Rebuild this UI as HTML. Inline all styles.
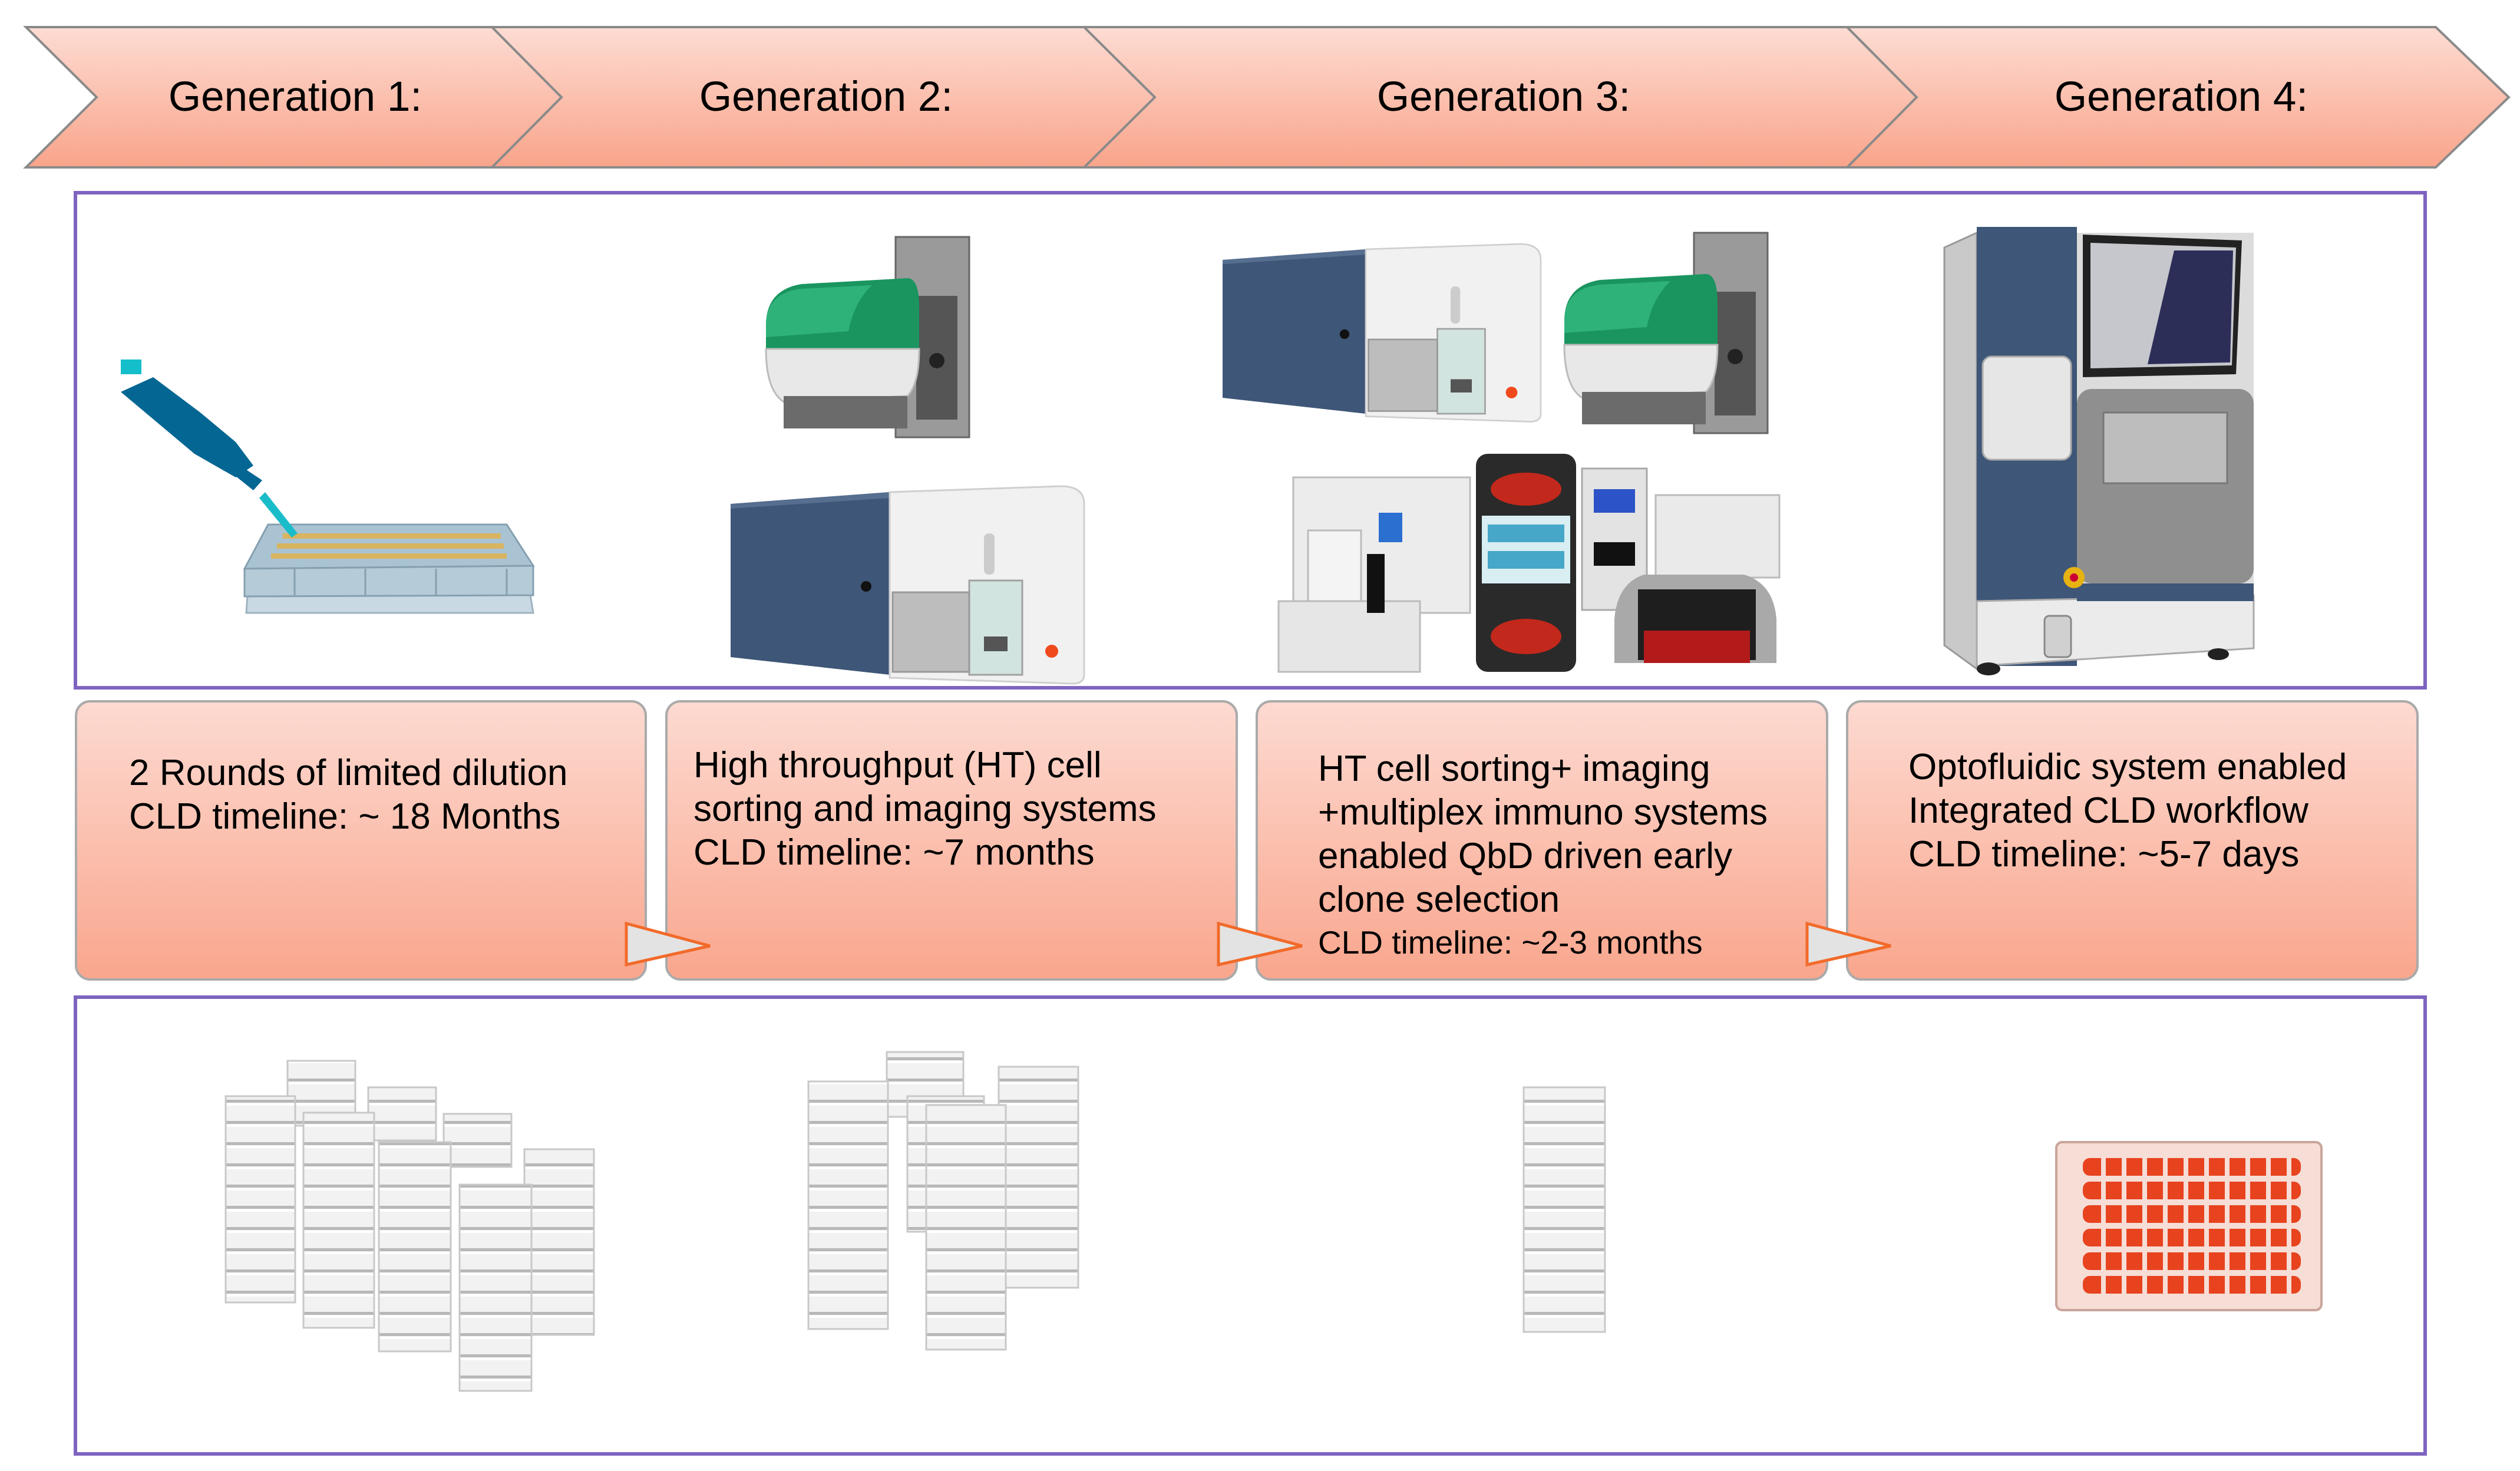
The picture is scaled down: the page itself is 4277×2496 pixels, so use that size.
<!DOCTYPE html>
<html><head><meta charset="utf-8"><style>
html,body{margin:0;padding:0;background:#fff;}
svg{display:block;}
text{font-family:"Liberation Sans",Arial,sans-serif;fill:#000;}
</style></head><body>
<svg width="4277" height="2496" viewBox="0 0 4277 2496" xmlns="http://www.w3.org/2000/svg">
<defs>
<linearGradient id="pk" x1="0" y1="0" x2="0" y2="1">
<stop offset="0" stop-color="#fddcd3"/><stop offset="1" stop-color="#f9a48a"/></linearGradient>
<linearGradient id="pk2" x1="0" y1="0" x2="0" y2="1">
<stop offset="0" stop-color="#fddad1"/><stop offset="1" stop-color="#f9a68d"/></linearGradient>
<pattern id="stk" patternUnits="userSpaceOnUse" width="20" height="36">
<rect width="20" height="36" fill="#f2f2f2"/><rect y="30" width="20" height="5" fill="#b8b8b8"/><rect y="0" width="20" height="4" fill="#ffffff"/></pattern>
<g id="sorter">
<polygon points="0,40 270,20 270,330 0,300" fill="#3e5677"/>
<polygon points="0,40 270,20 270,30 0,48" fill="#566e8f"/>
<circle cx="230" cy="180" r="9" fill="#111"/>
<path d="M270,20 L560,10 Q600,10 600,40 L600,330 Q600,345 580,345 L270,335 Z" fill="#f1f1f1" stroke="#cfcfcf" stroke-width="3"/>
<rect x="275" y="190" width="130" height="135" fill="#bdbdbd" stroke="#999" stroke-width="3"/>
<rect x="405" y="170" width="90" height="160" fill="#cfe3df" stroke="#999" stroke-width="3" opacity="0.9"/>
<rect x="430" y="90" width="18" height="70" rx="8" fill="#ccc"/>
<rect x="430" y="265" width="40" height="25" fill="#555"/>
<circle cx="545" cy="290" r="11" fill="#f04a1c"/>
</g>
<g id="imager">
<rect x="220" y="0" width="125" height="340" fill="#9a9a9a" stroke="#666" stroke-width="3"/>
<rect x="255" y="100" width="70" height="210" fill="#555"/>
<path d="M0,150 Q0,90 60,80 L240,70 Q260,70 260,120 L260,190 L0,190 Z" fill="#1a9560"/>
<path d="M0,150 Q0,95 60,88 L180,82 Q150,110 140,160 L0,170Z" fill="#2fb27a"/>
<path d="M0,190 L260,190 Q260,250 240,270 L30,280 Q0,260 0,190Z" fill="#e8e8e8" stroke="#bbb" stroke-width="3"/>
<rect x="30" y="270" width="210" height="55" fill="#6b6b6b"/>
<circle cx="290" cy="210" r="13" fill="#222"/>
</g>
</defs>

<!-- chevrons -->
<g stroke="#8a8a8a" stroke-width="4" fill="url(#pk)">
<polygon points="44,46 835,46 953,165 835,284 44,284 164,165"/>
<polygon points="835,46 1840,46 1960,165 1840,284 835,284 953,165"/>
<polygon points="1840,46 3135,46 3253,165 3135,284 1840,284 1960,165"/>
<polygon points="3135,46 4134,46 4258,165 4134,284 3135,284 3253,165"/>
</g>
<g font-size="71" text-anchor="middle">
<text x="501" y="188">Generation 1:</text>
<text x="1402" y="188">Generation 2:</text>
<text x="2552" y="188">Generation 3:</text>
<text x="3702" y="188">Generation 4:</text>
</g>

<!-- top box -->
<rect x="128" y="327" width="3988" height="840" fill="#fff" stroke="#7e64c0" stroke-width="6"/>

<!-- Gen1 pipette + plate -->
<polygon points="420,1010 900,1010 905,1040 418,1040" fill="#c9d9e3" stroke="#9fb3c0" stroke-width="3"/>
<polygon points="455,890 860,890 905,960 415,965" fill="#a9c3d2" stroke="#86a0b0" stroke-width="3"/>
<polygon points="415,965 905,960 905,1010 415,1012" fill="#b5cbd8" stroke="#86a0b0" stroke-width="3"/>
<g fill="#d9b460">
<rect x="480" y="905" width="370" height="9"/><rect x="470" y="922" width="385" height="9"/><rect x="460" y="939" width="400" height="9"/>
</g>
<g stroke="#86a0b0" stroke-width="3">
<line x1="500" y1="965" x2="500" y2="1010"/><line x1="620" y1="965" x2="620" y2="1010"/><line x1="740" y1="965" x2="740" y2="1010"/><line x1="860" y1="965" x2="860" y2="1010"/>
</g>
<polygon points="205,665 260,640 340,700 400,750 430,790 400,810 330,770" fill="#036693"/>
<polygon points="400,785 445,815 430,832 390,800" fill="#036693"/>
<polygon points="450,835 505,905 495,912 440,845" fill="#1bbcc9"/>
<rect x="205" y="610" width="35" height="25" fill="#14bfcb"/>

<!-- Gen2 machines -->
<use href="#imager" transform="translate(1300,402)"/>
<use href="#sorter" transform="translate(1240,815)"/>

<!-- Gen3 machines -->
<use href="#sorter" transform="translate(2075,405) scale(0.9)"/>
<use href="#imager" transform="translate(2655,395)"/>
<!-- cluster -->
<rect x="2195" y="810" width="300" height="230" fill="#ececec" stroke="#bbb" stroke-width="3"/>
<rect x="2340" y="870" width="40" height="50" fill="#2b6fd1"/>
<rect x="2170" y="1020" width="240" height="120" fill="#e6e6e6" stroke="#bbb" stroke-width="3"/>
<rect x="2220" y="900" width="90" height="120" fill="#f4f4f4" stroke="#bbb" stroke-width="3"/>
<rect x="2320" y="940" width="30" height="100" fill="#111"/>
<rect x="2505" y="770" width="170" height="370" rx="20" fill="#2a2a2a"/>
<ellipse cx="2590" cy="830" rx="60" ry="28" fill="#c2281b"/>
<ellipse cx="2590" cy="1080" rx="60" ry="30" fill="#c2281b"/>
<rect x="2515" y="875" width="150" height="115" fill="#d8eef2"/>
<rect x="2525" y="890" width="130" height="30" fill="#47a7c9"/>
<rect x="2525" y="935" width="130" height="30" fill="#47a7c9"/>
<rect x="2685" y="795" width="110" height="240" fill="#e3e3e3" stroke="#aaa" stroke-width="3"/>
<rect x="2705" y="830" width="70" height="40" fill="#2c54c8"/>
<rect x="2705" y="920" width="70" height="40" fill="#111"/>
<rect x="2810" y="840" width="210" height="140" fill="#eaeaea" stroke="#bbb" stroke-width="3"/>
<path d="M2740,1050 Q2745,990 2790,975 L2960,975 Q3010,990 3015,1050 L3015,1125 L2740,1125Z" fill="#a9a9a9"/>
<rect x="2780" y="1000" width="200" height="120" fill="#1e1e1e"/>
<rect x="2790" y="1070" width="180" height="55" fill="#b31b1b"/>

<!-- Gen4 machine -->
<polygon points="3300,420 3355,395 3355,1135 3300,1095" fill="#c9c9c9" stroke="#999" stroke-width="3"/>
<rect x="3355" y="385" width="170" height="745" fill="#3e5677"/>
<rect x="3525" y="395" width="300" height="630" fill="#dcdcdc"/>
<polygon points="3355,1020 3825,1010 3825,1100 3355,1130" fill="#ebebeb" stroke="#aaa" stroke-width="3"/>
<rect x="3525" y="990" width="300" height="30" fill="#3e5677"/>
<rect x="3525" y="660" width="300" height="330" rx="25" fill="#8f8f8f"/>
<rect x="3570" y="700" width="210" height="120" fill="#bdbdbd" stroke="#777" stroke-width="3"/>
<polygon points="3535,398 3805,408 3795,635 3535,640" fill="#222"/>
<polygon points="3548,412 3795,420 3788,620 3548,625" fill="#c5c7cc"/>
<polygon points="3690,425 3790,425 3785,615 3645,618" fill="#2d2e58"/>
<rect x="3365" y="605" width="150" height="175" rx="15" fill="#e6e6e6" stroke="#aaa" stroke-width="3"/>
<circle cx="3520" cy="980" r="18" fill="#e7b313"/><circle cx="3520" cy="980" r="7" fill="#c03"/>
<rect x="3470" y="1045" width="45" height="70" rx="8" fill="#d0d0d0" stroke="#888" stroke-width="3"/>
<ellipse cx="3375" cy="1135" rx="20" ry="11" fill="#222"/><ellipse cx="3765" cy="1110" rx="18" ry="10" fill="#222"/>

<!-- pink boxes -->
<g fill="url(#pk2)" stroke="#aaaaaa" stroke-width="4">
<rect x="129" y="1190" width="967" height="472" rx="24"/>
<rect x="1131" y="1190" width="968" height="472" rx="24"/>
<rect x="2133" y="1190" width="968" height="472" rx="24"/>
<rect x="3135" y="1190" width="968" height="472" rx="24"/>
</g>
<g fill="#e3e3e3" stroke="#f26a2a" stroke-width="5">
<polygon points="1063,1567 1063,1637 1205,1605"/>
<polygon points="2068,1567 2068,1637 2210,1605"/>
<polygon points="3067,1567 3067,1637 3209,1605"/>
</g>
<g font-size="62">
<text x="219" y="1332">2 Rounds of limited dilution</text>
<text x="219" y="1406">CLD timeline: ~ 18 Months</text>
<text x="1177" y="1319">High throughput (HT) cell</text>
<text x="1177" y="1393">sorting and imaging systems</text>
<text x="1177" y="1467">CLD timeline: ~7 months</text>
<text x="2237" y="1325">HT cell sorting+ imaging</text>
<text x="2237" y="1399">+multiplex immuno systems</text>
<text x="2237" y="1473">enabled QbD driven early</text>
<text x="2237" y="1547">clone selection</text>
<text x="2237" y="1618" font-size="55">CLD timeline: ~2-3 months</text>
<text x="3239" y="1322">Optofluidic system enabled</text>
<text x="3239" y="1396">Integrated CLD workflow</text>
<text x="3239" y="1470">CLD timeline: ~5-7 days</text>
</g>

<!-- bottom box -->
<rect x="128" y="1692" width="3988" height="775" fill="#fff" stroke="#7e64c0" stroke-width="6"/>

<g stroke="#c8c8c8" stroke-width="3" fill="url(#stk)">
<rect x="488" y="1800" width="115" height="110"/>
<rect x="625" y="1845" width="115" height="90"/>
<rect x="753" y="1890" width="115" height="90"/>
<rect x="383" y="1860" width="118" height="350"/>
<rect x="515" y="1888" width="120" height="365"/>
<rect x="643" y="1938" width="122" height="355"/>
<rect x="890" y="1950" width="118" height="315"/>
<rect x="780" y="2010" width="122" height="350"/>
<rect x="1505" y="1785" width="130" height="110"/>
<rect x="1695" y="1810" width="135" height="375"/>
<rect x="1372" y="1835" width="135" height="420"/>
<rect x="1540" y="1860" width="130" height="230"/>
<rect x="1572" y="1875" width="135" height="415"/>
<rect x="2586" y="1845" width="138" height="415"/>
</g>
<!-- Gen4 plate -->
<rect x="3490" y="1938" width="450" height="285" rx="10" fill="#f6ddd6" stroke="#c9a49a" stroke-width="4"/>
<g fill="#e8431f">
<rect x="3535" y="1965" width="370" height="30" rx="12"/>
<rect x="3535" y="2005" width="370" height="30" rx="12"/>
<rect x="3535" y="2045" width="370" height="30" rx="12"/>
<rect x="3535" y="2085" width="370" height="30" rx="12"/>
<rect x="3535" y="2125" width="370" height="30" rx="12"/>
<rect x="3535" y="2165" width="370" height="30" rx="12"/>
</g>
<g stroke="#f6ddd6" stroke-width="8">
<line x1="3570" y1="1960" x2="3570" y2="2200"/><line x1="3605" y1="1960" x2="3605" y2="2200"/>
<line x1="3640" y1="1960" x2="3640" y2="2200"/><line x1="3675" y1="1960" x2="3675" y2="2200"/>
<line x1="3710" y1="1960" x2="3710" y2="2200"/><line x1="3745" y1="1960" x2="3745" y2="2200"/>
<line x1="3780" y1="1960" x2="3780" y2="2200"/><line x1="3815" y1="1960" x2="3815" y2="2200"/>
<line x1="3850" y1="1960" x2="3850" y2="2200"/><line x1="3885" y1="1960" x2="3885" y2="2200"/>
</g>
</svg>
</body></html>
